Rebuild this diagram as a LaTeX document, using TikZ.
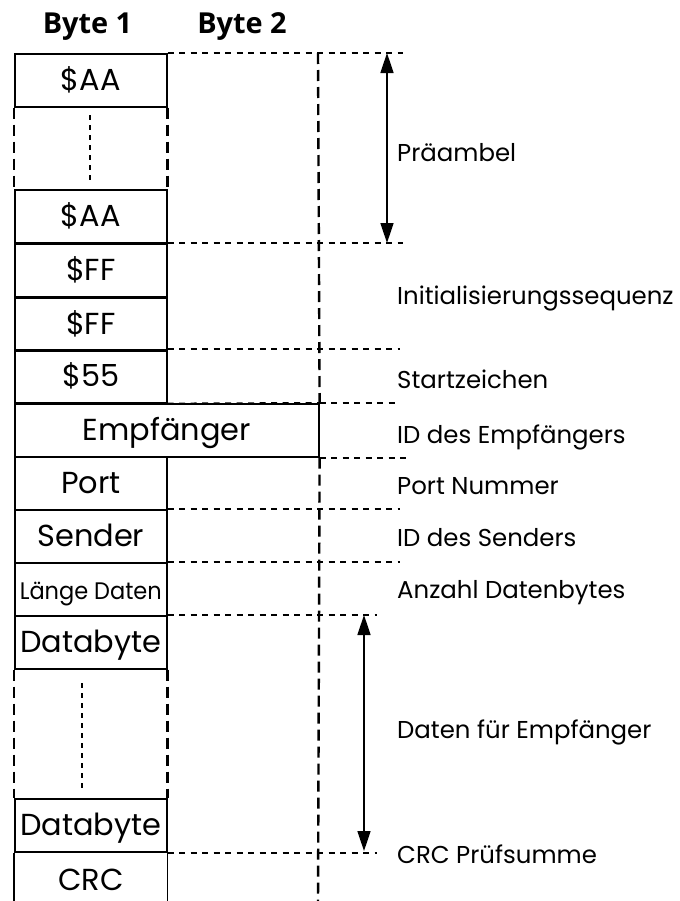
\documentclass[tikz,border=0pt]{standalone}
\usepackage{fontspec}
\usepackage{graphicx}
\setmainfont{Poppins}
\newfontfamily\headfont{Open Sans}
\usetikzlibrary{arrows.meta}

\tikzset{
  boxline/.style={line width=1.6bp},
  field/.style={draw, boxline, minimum width=152bp, minimum height=53bp,
    inner sep=0pt, anchor=north west, font=\fontsize{30.5}{30.5}\selectfont,
    text height=21bp, text depth=0pt},
  wide/.style={field, minimum width=304bp},
  lab/.style={anchor=base west, inner sep=0pt, font=\fontsize{24.5}{24.5}\selectfont},
  head/.style={anchor=base, inner sep=0pt, font=\headfont\bfseries\fontsize{29}{29}\selectfont},
  hdash/.style={line width=2bp, dash pattern=on 6bp off 5.5bp},
  vdash/.style={line width=2.4bp, dash pattern=on 11bp off 6bp},
  gapdots/.style={line width=1.6bp, dash pattern=on 5bp off 5bp},
  span/.style={line width=1.6bp, {Triangle[width=13bp,length=20bp]}-{Triangle[width=13bp,length=20bp]}}
}

\begin{document}
\begin{tikzpicture}[x=1bp, y=-1bp]
\useasboundingbox (0,0) rectangle (680,901);

% column headers
\node[head] (h1) at (87.5,33) {Byte 1};
\node[head] (h2) at (242,33) {Byte 2};

% frame fields
\node[field] (b1)  at (14,53)  {\$AA};
\node[field] (b2)  at (14,189) {\$AA};
\node[field] (b3)  at (14,243) {\$FF};
\node[field] (b4)  at (14,297) {\$FF};
\node[field] (b5)  at (14,349) {\$55};
\node[wide]  (b6)  at (14,403) {Empfänger};
\node[field] (b7)  at (14,456) {Port};
\node[field] (b8)  at (14,509) {Sender};
\node[field] (b9)  at (14,562) {\fontsize{24}{24}\selectfont\scalebox{0.94}[1]{Länge Daten}};
\node[field] (b10) at (14,615) {Databyte};
\node[field] (b11) at (14,798) {Databyte};
% last field runs past the lower edge: sides only
\node[field, draw=none, minimum height=36bp] (b12) at (14,861) {CRC};
\coordinate (rb) at (318,905);
\draw[boxline] (b11.south west) -- (b11.south west |- rb);
\draw[boxline] (b11.south east) -- (b11.south east |- rb);

% elided repetitions
\draw[vdash] (b1.south west) -- (b2.north west);
\draw[vdash] (b1.south east) -- (b2.north east);
\draw[vdash] (b10.south west) -- (b11.north west);
\draw[vdash] (b10.south east) -- (b11.north east);
\coordinate (d1a) at (90,115);  \coordinate (d1b) at (90,182);
\coordinate (d2a) at (82,683);  \coordinate (d2b) at (82,790);
\draw[gapdots] (d1a) -- (d1b);
\draw[gapdots] (d2a) -- (d2b);

% outer border of byte 2
\coordinate (rt) at (318,53);
\draw[vdash] (rt) -- (b6.north east);
\draw[vdash] (b6.south east) -- (rb);

% section separators
\coordinate (eA) at (403,0);
\coordinate (eB) at (400,0);
\coordinate (eC) at (410,0);
\coordinate (eD) at (377,0);
\draw[hdash] (b1.north east) -- (b1.north east -| eA);
\draw[hdash] (b3.north east) -- (b3.north east -| eA);
\draw[hdash] (b5.north east) -- (b5.north east -| eB);
\draw[hdash] (b5.south east) -- (b6.north east);
\draw[hdash] (b6.north east) -- (b6.north east -| eB);
\draw[hdash] (b6.south east) -- (b6.south east -| eC);
\draw[hdash] (b8.north east) -- (b8.north east -| eB);
\draw[hdash] (b9.north east) -- (b9.north east -| eB);
\draw[hdash] (b10.north east) -- (b10.north east -| eD);
\draw[hdash] (b11.south east) -- (b11.south east -| eD);

% extent arrows
\coordinate (p1) at (387,53);  \coordinate (p2) at (387,243);
\coordinate (q1) at (364,615); \coordinate (q2) at (364,851);
\draw[span] (p1) -- (p2);
\draw[span] (q1) -- (q2);

% descriptions
\node[lab] (l1) at (397,161) {Präambel};
\node[lab] (l2) at (397,304) {Initialisierungssequenz};
\node[lab] (l3) at (397,388) {Startzeichen};
\node[lab] (l4) at (397,443) {ID des Empfängers};
\node[lab] (l5) at (397,494) {Port Nummer};
\node[lab] (l6) at (397,546) {ID des Senders};
\node[lab] (l7) at (397,598) {Anzahl Datenbytes};
\node[lab] (l8) at (397,738) {Daten für Empfänger};
\node[lab] (l9) at (397,863) {CRC Prüfsumme};
\end{tikzpicture}
\end{document}
